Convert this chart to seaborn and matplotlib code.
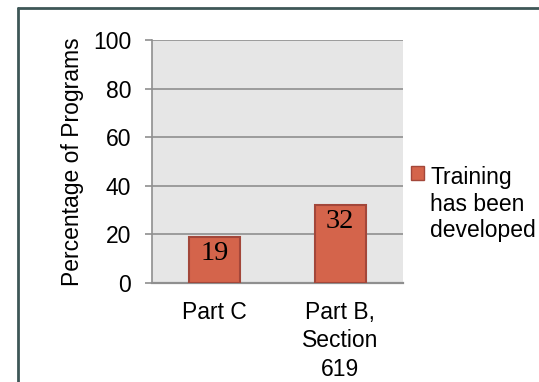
import matplotlib
matplotlib.use("Agg")
import matplotlib.pyplot as plt
from matplotlib.lines import Line2D
from matplotlib.patches import Patch
import seaborn as sns
import pandas as pd

categories = ["Part C", "Part B,\nSection\n619"]
values = [19, 32]
series_name = "Training\nhas been\ndeveloped"
y_ticks = [0, 20, 40, 60, 80, 100]
y_label = "Percentage of Programs"

bar_color = "#d4644b"
bar_edge = "#a3473a"
grid_color = "#8f8f8f"
panel_bg = "#e6e6e6"
frame_color = "#3e5757"
font_size = 16.5

sns.set_theme(style="white")
plt.rcParams["font.family"] = ["Liberation Sans", "DejaVu Sans"]
plt.rcParams["text.color"] = "black"
plt.rcParams["axes.labelcolor"] = "black"
plt.rcParams["xtick.color"] = "black"
plt.rcParams["ytick.color"] = "black"

df = pd.DataFrame({"category": categories, "value": values, "series": series_name})

fig = plt.figure(figsize=(5.39, 3.82), dpi=100)
ax = fig.add_axes([152 / 539, 1 - 283 / 382, 251 / 539, 243 / 382])
ax.set_facecolor(panel_bg)

sns.barplot(data=df, x="category", y="value", hue="series", ax=ax,
            palette=[bar_color], saturation=1, width=0.41,
            edgecolor=bar_edge, linewidth=1.5, legend=False, zorder=3)

ax.set_ylim(0, 100)
ax.set_yticks(y_ticks)
ax.set_yticklabels([str(t) for t in y_ticks], fontsize=font_size)
ax.set_xlabel("")
ax.set_ylabel(y_label, fontsize=font_size)
ax.yaxis.set_label_coords(-0.27, 0.5)
ax.tick_params(axis="x", labelsize=font_size, length=0, pad=13)
ax.tick_params(axis="y", length=5, width=1.2, color=grid_color, labelcolor="black",
               pad=10, left=True)
for lbl in ax.get_xticklabels():
    lbl.set_linespacing(1.3)

ax.yaxis.grid(True, color=grid_color, linewidth=1.2, zorder=0)
ax.set_axisbelow(True)
for side in ["top", "right"]:
    ax.spines[side].set_visible(False)
ax.spines["left"].set_color(grid_color)
ax.spines["left"].set_linewidth(1.2)
ax.spines["bottom"].set_color(grid_color)
ax.spines["bottom"].set_linewidth(1.6)

# Value labels inside the top of each bar
for patch, v in zip(ax.patches, values):
    cx = patch.get_x() + patch.get_width() / 2
    ax.annotate(str(v), xy=(cx, v), xytext=(0, -3), textcoords="offset points",
                ha="center", va="top", fontsize=20.5,
                family=["Liberation Serif", "DejaVu Serif"], color="black", zorder=4)

handles = [Patch(facecolor=bar_color, edgecolor=bar_edge, linewidth=1.0)]
leg = fig.legend(handles, [series_name], loc="upper left",
                 bbox_to_anchor=(411 / 539, 1 - 166 / 382), frameon=False,
                 fontsize=font_size, handlelength=0.57, handleheight=0.57,
                 handletextpad=0.26, borderaxespad=0, borderpad=0)
for t in leg.get_texts():
    t.set_linespacing(1.2)
# Put the colour swatch beside the first line of the label
for column in leg._legend_handle_box.get_children():
    for row in column.get_children():
        row.align = "top"

# Outer frame along the top and left edges
fig.add_artist(Line2D([17.5 / 539, 17.5 / 539], [0, 1 - 7.5 / 382],
                      transform=fig.transFigure, color=frame_color, linewidth=2))
fig.add_artist(Line2D([17.5 / 539, 1], [1 - 7.5 / 382, 1 - 7.5 / 382],
                      transform=fig.transFigure, color=frame_color, linewidth=2))

fig.savefig("out.png", dpi=100, facecolor="white")
